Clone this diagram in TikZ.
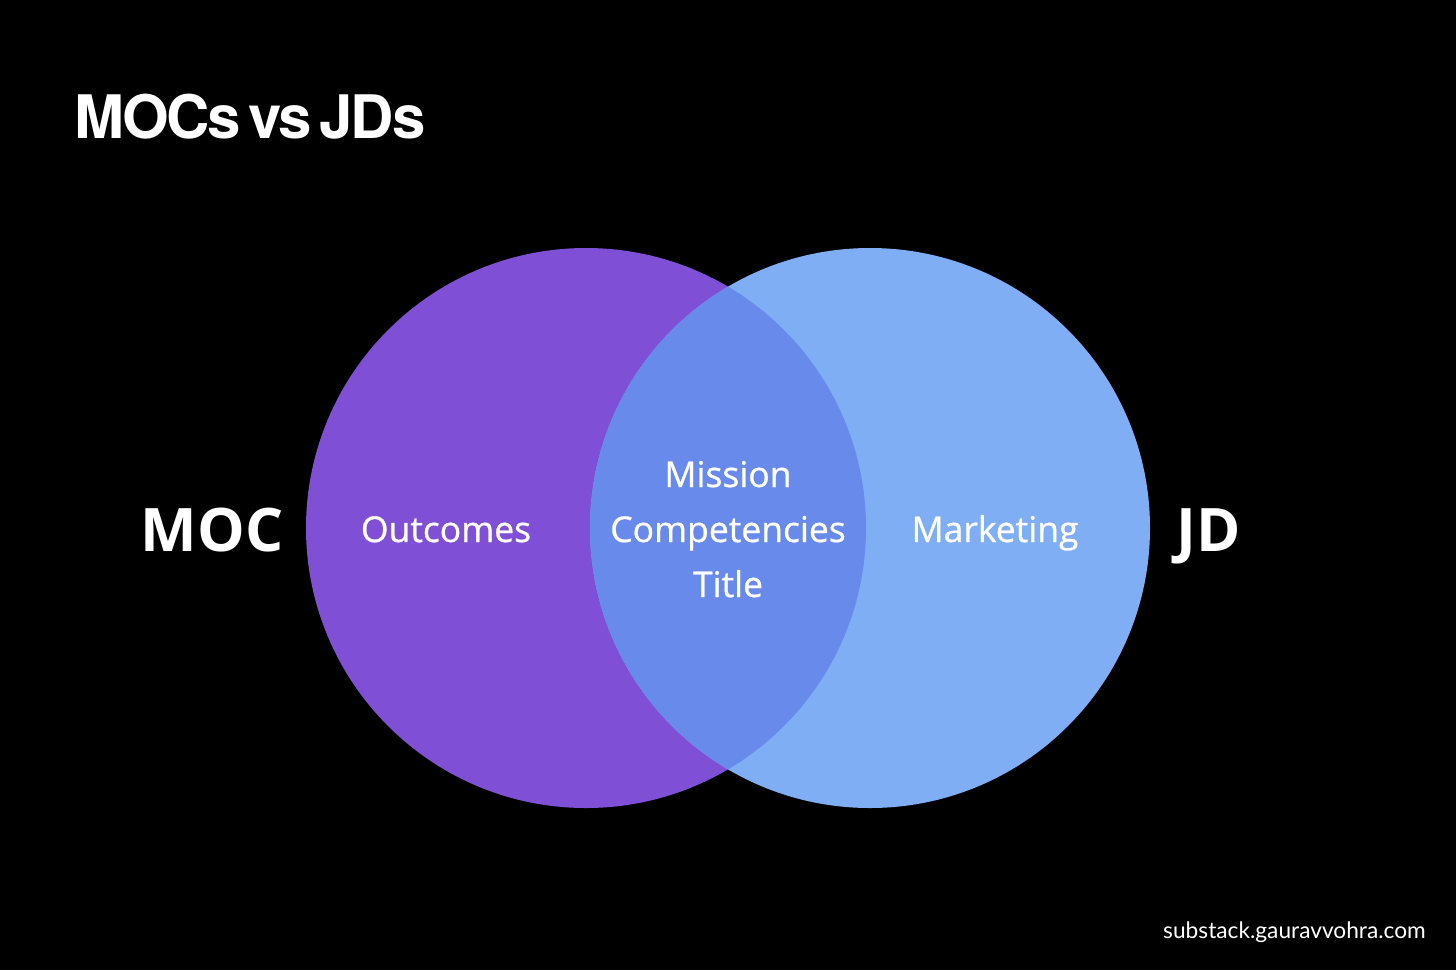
\documentclass[tikz,border=0pt]{standalone}
\usepackage{fontspec}
\setmainfont{Open Sans}[FakeBold=0.8]
\newfontfamily\sidefont{Open Sans}
\newfontfamily\titlefont{TeX Gyre Heros}[LetterSpace=-3.5,WordSpace=0.5]
\newfontfamily\markfont{Lato}
\definecolor{mocpurple}{HTML}{7F4FD5}
\definecolor{jdblue}{HTML}{80AEF4}
\definecolor{overlapblue}{HTML}{688AEB}
\begin{document}
\begin{tikzpicture}[x=1pt,y=-1pt,
  lbl/.style={text=white,font=\fontsize{35.5}{40}\selectfont,inner sep=0pt,anchor=base},
  side/.style={text=white,font=\sidefont\fontsize{60}{70}\selectfont\bfseries,inner sep=0pt,anchor=base}]
\fill[black] (0,0) rectangle (1456,970);
\useasboundingbox (0,0) rectangle (1456,970);
\coordinate (cl) at (586,528);
\coordinate (cr) at (870,528);
\fill[mocpurple] (cl) circle[radius=280pt];
\fill[jdblue] (cr) circle[radius=280pt];
\begin{scope}
\clip (cl) circle[radius=280pt];
\fill[overlapblue] (cr) circle[radius=280pt];
\end{scope}
\node[anchor=base west,text=white,inner sep=0pt,font=\titlefont\fontsize{60}{70}\selectfont\bfseries] (title) at (74,138) {MOCs vs JDs};
\node[side] (moc) at (212,551) {MOC};
\node[side] (jd) at (1209,551) {JD};
\node[lbl] (outcomes) at (446,542) {Outcomes};
\node[lbl] (mission) at (728,487) {Mission};
\node[lbl] (comp) at (728,542) {Competencies};
\node[lbl] (ttl) at (728,597) {Title};
\node[lbl] (mkt) at (995,542) {Marketing};
\node[anchor=base east,text=white,inner sep=0pt,font=\markfont\fontsize{22.7}{26}\selectfont] (mark) at (1426,938) {substack.gauravvohra.com};
\end{tikzpicture}
\end{document}
